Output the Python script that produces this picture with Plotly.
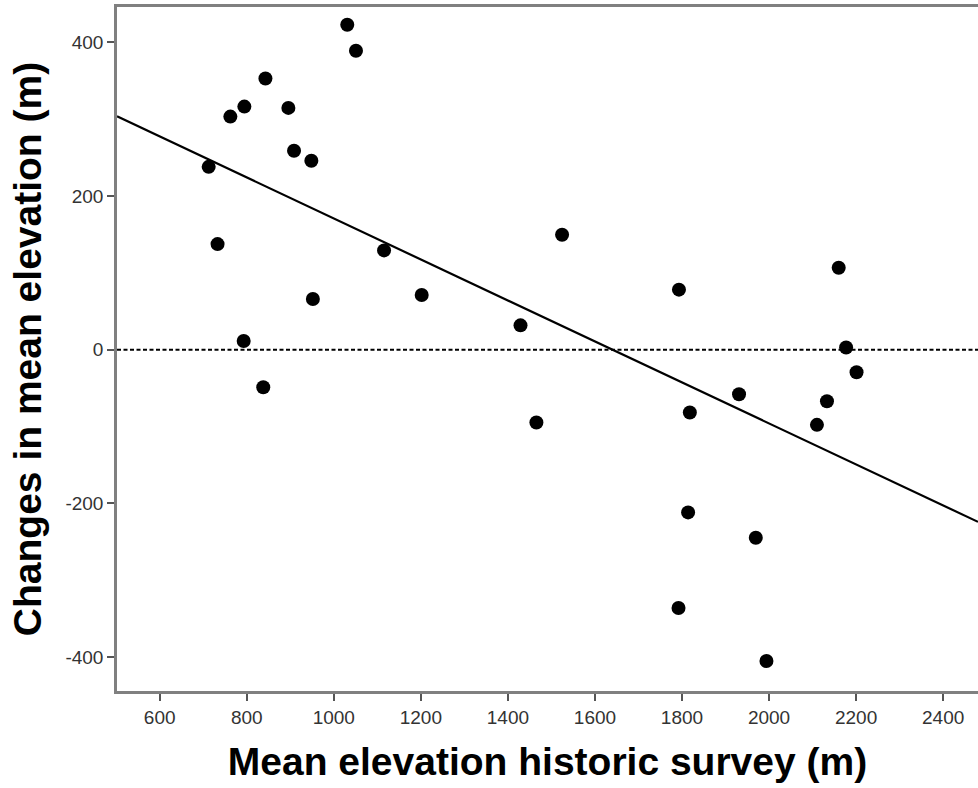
import numpy as np
import plotly.graph_objects as go

# Data
mean_elev_hist = [712.6, 733, 762.4, 794.6, 793, 843, 838, 895.7, 908.7, 948.5,
                  952, 1031, 1051, 1115.5, 1202, 1429, 1465.5, 1524.5, 1793, 1818,
                  1814, 1792, 1931, 1969.5, 1994, 2110, 2133, 2160, 2177, 2201]
change_elev = [238, 137.5, 303.4, 316.4, 11.4, 353, -48.7, 314.7, 258.9, 245.9,
               66, 423, 389, 129.3, 71.2, 31.8, -94.6, 149.7, 78.2, -81.6,
               -211.6, -336, -57.8, -244.5, -405, -97.7, -67, 106.8, 2.9, -29.2]
x_ticks = [600, 800, 1000, 1200, 1400, 1600, 1800, 2000, 2200, 2400]
y_ticks = [-400, -200, 0, 200, 400]
y_tick_text = ["-400", "-200", "0", "200", "400"]
x_range = [502, 2480]
y_range = [-444, 446]

# Linear fit line
slope, intercept = np.polyfit(mean_elev_hist, change_elev, 1)
fit_x = np.array(x_range)
fit_y = slope * fit_x + intercept

fig = go.Figure()
fig.add_trace(go.Scatter(x=x_range, y=[0, 0], mode="lines",
                         line=dict(color="black", width=2, dash="4px,2.5px"),
                         hoverinfo="skip", showlegend=False))
fig.add_trace(go.Scatter(x=fit_x, y=fit_y, mode="lines",
                         line=dict(color="black", width=2.2),
                         hoverinfo="skip", showlegend=False))
fig.add_trace(go.Scatter(x=mean_elev_hist, y=change_elev, mode="markers",
                         marker=dict(color="black", size=14, line=dict(width=0)),
                         showlegend=False))

axis_font = dict(family="Liberation Sans Narrow, Liberation Sans, Arial, sans-serif",
                 size=19, color="#333333")
title_font = dict(family="Liberation Sans, Arial, sans-serif", size=39, color="black")

fig.update_layout(
    width=978, height=788,
    margin=dict(l=117, r=0, t=7, b=97),
    paper_bgcolor="white", plot_bgcolor="white",
    xaxis=dict(range=x_range, tickvals=x_ticks, ticks="outside", ticklen=7,
               tickwidth=2, tickcolor="#555555", showgrid=False, zeroline=False,
               showline=True, linecolor="#808080", linewidth=2.5, mirror=True,
               tickfont=axis_font,
               title=dict(text="<b>Mean elevation historic survey (m)</b>",
                          font=title_font, standoff=22)),
    yaxis=dict(range=y_range, tickvals=y_ticks, ticktext=y_tick_text,
               ticks="outside", ticklen=7,
               tickwidth=2, tickcolor="#555555", showgrid=False, zeroline=False,
               showline=True, linecolor="#808080", linewidth=2.5,
               tickfont=axis_font,
               title=dict(text="<b>Changes in mean elevation (m)</b>",
                          font=title_font, standoff=12)),
)

fig.write_html("out.html")
